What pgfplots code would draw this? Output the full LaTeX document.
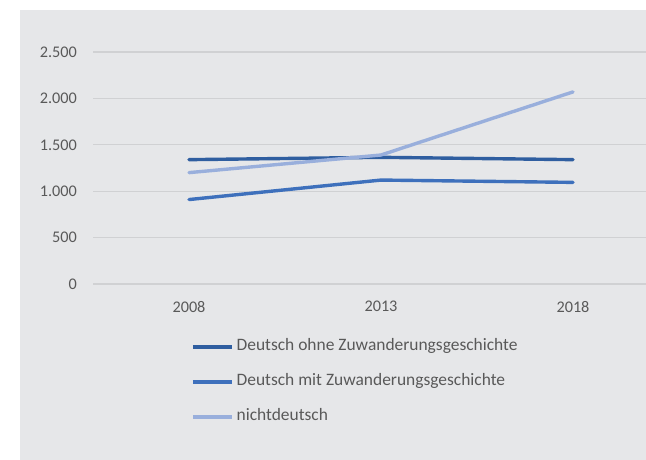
\documentclass[border=0pt]{standalone}
\usepackage{pgfplots}
\pgfplotsset{compat=1.18}
\usepackage{fontspec}
\setmainfont{Carlito}

\definecolor{panel}{RGB}{230,231,233}
\definecolor{gridc}{RGB}{208,209,211}
\definecolor{txt}{RGB}{89,89,89}
\definecolor{ohne}{RGB}{47,94,160}
\definecolor{mit}{RGB}{62,112,188}
\definecolor{nicht}{RGB}{153,175,220}

\begin{document}
\begin{tikzpicture}
\path[use as bounding box] (0bp,0bp) rectangle (646bp,460bp);
\begin{scope}
\clip (0bp,0bp) rectangle (646bp,460bp);
\fill[panel] (20bp,0bp) rectangle (646bp,450bp);
\begin{axis}[
  at={(93bp,176bp)}, anchor=south west,
  scale only axis,
  width=576bp, height=232bp,
  xmin=0.5, xmax=3.5,
  ymin=0, ymax=2500,
  xtick={1,2,3},
  xticklabels={2008,2013,2018},
  ytick={0,500,1000,1500,2000,2500},
  /pgf/number format/.cd, 1000 sep={.}, assume math mode=true,
  /pgfplots/.cd,
  axis line style={draw=none},
  major tick length=0pt,
  ymajorgrids,
  grid style={gridc, line width=1.2bp},
  tick label style={font=\fontsize{16.3}{19}\selectfont, text=txt},
  yticklabel style={inner sep=0pt, xshift=-16bp},
  xticklabel style={inner sep=0pt, yshift=-17bp},
  clip=false,
  legend cell align=left,
  legend image code/.code={\draw[#1, line cap=butt] (0bp,0bp) -- (39bp,0bp);},
  legend style={
    draw=none, fill=none,
    at={(axis description cs:0.165,-0.225)}, anchor=north west,
    font=\fontsize{17.5}{20}\selectfont, text=txt,
    row sep=18bp,
    nodes={inner sep=0pt, text height=12bp, text depth=5bp},
    /tikz/every odd column/.append style={column sep=3bp},
  },
  every axis plot/.append style={line width=3.4bp, line join=round, line cap=round},
]
\addplot[ohne] coordinates {(1,1340) (2,1365) (3,1340)};
\addlegendentry{Deutsch ohne Zuwanderungsgeschichte}
\addplot[mit] coordinates {(1,910) (2,1120) (3,1095)};
\addlegendentry{Deutsch mit Zuwanderungsgeschichte}
\addplot[nicht] coordinates {(1,1200) (2,1390) (3,2070)};
\addlegendentry{nichtdeutsch}
\end{axis}
\end{scope}
\end{tikzpicture}
\end{document}
